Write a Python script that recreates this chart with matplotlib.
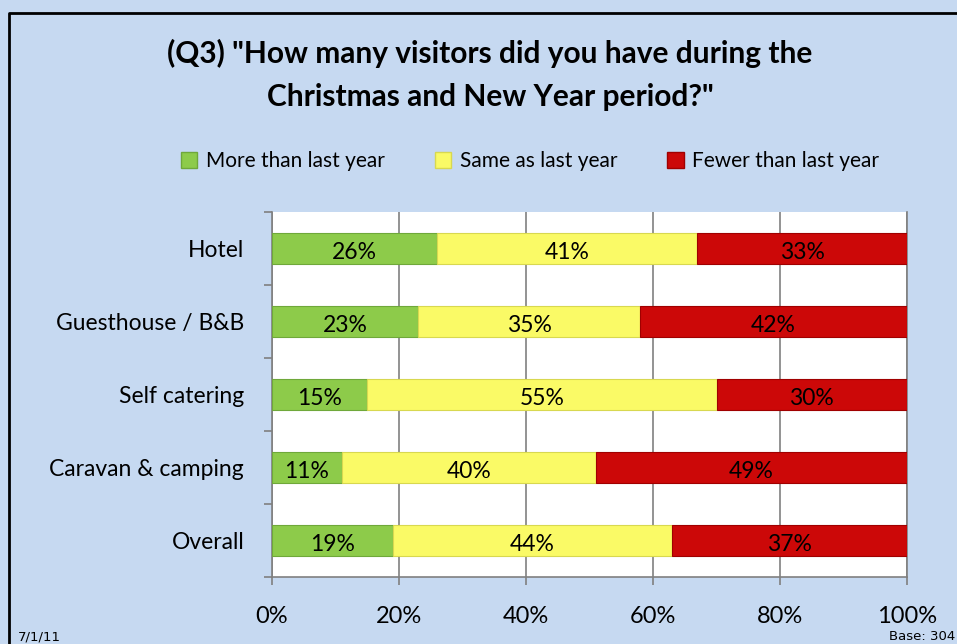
import matplotlib
matplotlib.use("Agg")
import matplotlib.pyplot as plt
from matplotlib.patches import Patch
from matplotlib.lines import Line2D
import numpy as np

categories = ["Hotel", "Guesthouse / B&B", "Self catering", "Caravan & camping", "Overall"]
more = [26, 23, 15, 11, 19]
same = [41, 35, 55, 40, 44]
fewer = [33, 42, 30, 49, 37]
series_names = ["More than last year", "Same as last year", "Fewer than last year"]
xticks = [0, 20, 40, 60, 80, 100]
xtick_labels = ["0%", "20%", "40%", "60%", "80%", "100%"]

colors = ["#8DCB4A", "#FAFA66", "#CC0808"]
edges = ["#6FA83A", "#D8D850", "#A00000"]

FONT = "Lato"

fig = plt.figure(figsize=(9.57, 6.44), dpi=100)
fig.patch.set_facecolor("#C6D9F1")

ax = fig.add_axes([272/957, 1-577/644, (907-272)/957, (577-212)/644])
ax.set_facecolor("white")

y = np.arange(len(categories))
h = 0.42
left = np.zeros(len(categories))
for vals, c, ec in zip([more, same, fewer], colors, edges):
    vals = np.array(vals, dtype=float)
    ax.barh(y, vals, left=left, height=h, color=c, edgecolor=ec, linewidth=0.8, zorder=3)
    for yi, l, v in zip(y, left, vals):
        ax.text(l + v/2, yi + 0.05, f"{int(v)}%", ha="center", va="center",
                fontsize=16.5, family=FONT, color="black", zorder=4)
    left += vals

ax.set_xlim(0, 100)
ax.set_ylim(len(categories)-0.5, -0.5)
ax.set_xticks(xticks)
ax.set_xticklabels(xtick_labels, family=FONT, fontsize=17)
ax.set_yticks(y)
ax.set_yticklabels(categories, family=FONT, fontsize=16.5)
ax.set_yticks(np.arange(-0.5, len(categories), 1.0), minor=True)
ax.tick_params(axis="y", which="major", length=0, pad=20)
ax.tick_params(axis="y", which="minor", length=6, color="#808080", width=1.2, direction="out")
ax.tick_params(axis="x", which="major", length=6, color="#808080", width=1.2, direction="out", pad=15)
ax.grid(axis="x", color="#808080", linewidth=1.2, zorder=0)
ax.spines["top"].set_visible(False)
for s in ["right", "left", "bottom"]:
    ax.spines[s].set_color("#808080")
    ax.spines[s].set_linewidth(1.2)

fig.text(490/957, 1-53/644, '(Q3) "How many visitors did you have during the',
         ha="center", va="center", fontsize=21.5, weight="bold", family=FONT)
fig.text(490/957, 1-97/644, 'Christmas and New Year period?"',
         ha="center", va="center", fontsize=21.5, weight="bold", family=FONT)

handles = [Patch(facecolor=c, edgecolor=ec) for c, ec in zip(colors, edges)]
leg = fig.legend(handles, series_names, loc="center", bbox_to_anchor=(530/957, 1-161/644),
                 ncol=3, frameon=False, prop={"family": FONT, "size": 15},
                 handlelength=0.8, handleheight=0.8, handletextpad=0.4, columnspacing=2.4)

fig.text(18/957, 1-637/644, "7/1/11", ha="left", va="center", fontsize=9.5, family="Liberation Sans Narrow")
fig.text(955/957, 1-637/644, "Base: 304", ha="right", va="center", fontsize=9.5, family="Liberation Sans Narrow")

fig.add_artist(Line2D([9/957, 9/957, 1], [0, 1-13/644, 1-13/644], color="black", linewidth=2))

fig.savefig("out.png", dpi=100, facecolor=fig.get_facecolor())
